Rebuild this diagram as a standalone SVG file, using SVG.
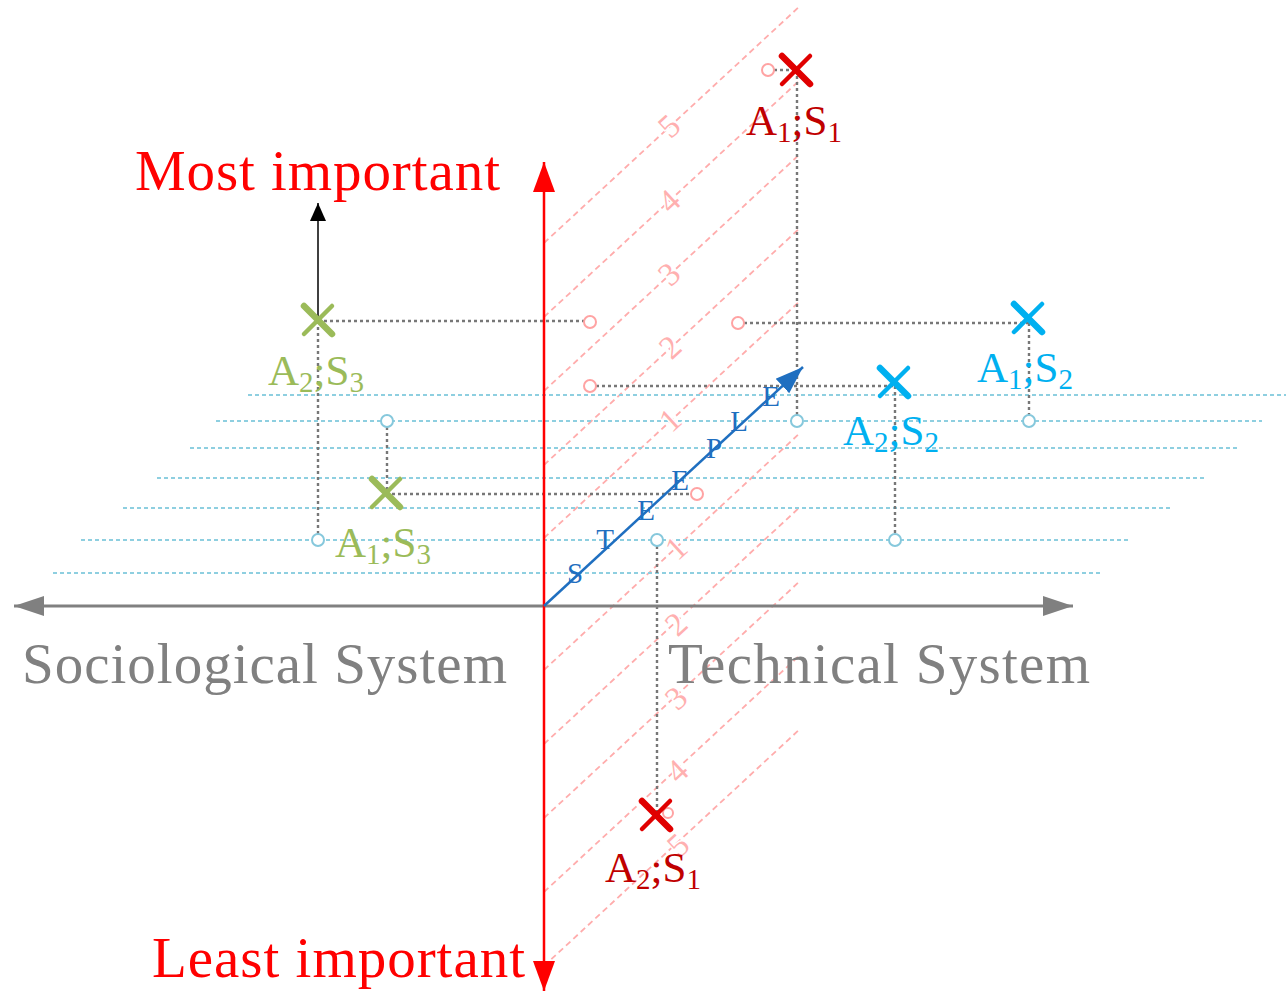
<svg xmlns="http://www.w3.org/2000/svg" width="1286" height="992" viewBox="0 0 1286 992">
  <defs>
    <style>
      .serif { font-family: "Liberation Serif", "Times New Roman", serif; }
      .pink { stroke: #ffacac; stroke-width: 1.8; stroke-dasharray: 6 4; fill: none; }
      .blue { stroke: #8ecfe0; stroke-width: 2.2; stroke-dasharray: 4 3; fill: none; }
      .gray { stroke: #777777; stroke-width: 2.4; stroke-dasharray: 3 3; fill: none; }
      .pc { stroke: #ffa3a3; stroke-width: 2; fill: #fff; }
      .bc { stroke: #86c8dc; stroke-width: 2; fill: #fff; }
      .num { font-family: "Liberation Serif", "Times New Roman", serif; font-size: 33px; fill: #ffb0b0; text-anchor: middle; stroke: #fff; stroke-width: 3; paint-order: stroke; }
      .big { font-family: "Liberation Serif", "Times New Roman", serif; font-size: 57px; }
      .lbl { font-family: "Liberation Serif", "Times New Roman", serif; font-size: 43px; }
      .st { font-family: "Liberation Serif", "Times New Roman", serif; font-size: 29px; fill: #1f6fc0; text-anchor: middle; }
      .xr { stroke: #e00000; }
      .xg { stroke: #9bbb59; }
      .xb { stroke: #00b0f0; }
    </style>
    <g id="xm">
      <path d="M-14,-14 L14,14" stroke-width="6.5" stroke-linecap="round"/>
      <path d="M14,-14 L-14,14" stroke-width="4.5" stroke-linecap="round"/>
    </g>
    <marker id="ahRed" markerUnits="userSpaceOnUse" markerWidth="32" markerHeight="22" refX="30" refY="11" orient="auto" viewBox="0 0 32 22">
      <path d="M0,0 L30,11 L0,22 Z" fill="#ff0000"/>
    </marker>
    <marker id="ahGray" markerUnits="userSpaceOnUse" markerWidth="32" markerHeight="22" refX="30" refY="10" orient="auto" viewBox="0 0 32 20">
      <path d="M0,0 L30,10 L0,20 Z" fill="#808080"/>
    </marker>
    <marker id="ahBlue" markerUnits="userSpaceOnUse" markerWidth="30" markerHeight="22" refX="28" refY="10" orient="auto" viewBox="0 0 30 20">
      <path d="M0,0 L28,10 L0,20 Z" fill="#1f6fc0"/>
    </marker>
    <marker id="ahBlack" markerUnits="userSpaceOnUse" markerWidth="20" markerHeight="18" refX="18" refY="8" orient="auto" viewBox="0 0 20 16">
      <path d="M0,0 L18,8 L0,16 Z" fill="#000"/>
    </marker>
  </defs>

  <rect width="1286" height="992" fill="#fff"/>

  <!-- pink importance planes -->
  <g id="importance-lines">
    <line class="pink" x1="544" y1="243" x2="800" y2="6"/>
    <line class="pink" x1="544" y1="317" x2="800" y2="80"/>
    <line class="pink" x1="544" y1="391" x2="800" y2="154"/>
    <line class="pink" x1="544" y1="465" x2="800" y2="228"/>
    <line class="pink" x1="544" y1="538" x2="800" y2="301"/>
    <line class="pink" x1="544" y1="670" x2="800" y2="433"/>
    <line class="pink" x1="544" y1="744" x2="800" y2="507"/>
    <line class="pink" x1="544" y1="818" x2="800" y2="581"/>
    <line class="pink" x1="544" y1="892" x2="800" y2="655"/>
    <line class="pink" x1="544" y1="966" x2="800" y2="729"/>
  </g>

  <!-- blue dotted planes -->
  <g id="system-lines">
    <line class="blue" x1="248" y1="395" x2="1286" y2="395"/>
    <line class="blue" x1="216" y1="421" x2="1262" y2="421"/>
    <line class="blue" x1="190" y1="448" x2="1240" y2="448"/>
    <line class="blue" x1="157" y1="478" x2="1205" y2="478"/>
    <line class="blue" x1="123" y1="508" x2="1170" y2="508"/>
    <line class="blue" x1="81" y1="540" x2="1130" y2="540"/>
    <line class="blue" x1="53" y1="573" x2="1100" y2="573"/>
  </g>

  <!-- pink numbers -->
  <g id="importance-numbers">
    <text class="num" transform="translate(669,126) rotate(-42.7)" y="11">5</text>
    <text class="num" transform="translate(669,201) rotate(-42.7)" y="11">4</text>
    <text class="num" transform="translate(669,274) rotate(-42.7)" y="11">3</text>
    <text class="num" transform="translate(670,347) rotate(-42.7)" y="11">2</text>
    <text class="num" transform="translate(670,420) rotate(-42.7)" y="11">1</text>
    <text class="num" transform="translate(676,548) rotate(-42.7)" y="11">1</text>
    <text class="num" transform="translate(676,624) rotate(-42.7)" y="11">2</text>
    <text class="num" transform="translate(676,698) rotate(-42.7)" y="11">3</text>
    <text class="num" transform="translate(677,771) rotate(-42.7)" y="11">4</text>
    <text class="num" transform="translate(678,845) rotate(-42.7)" y="11">5</text>
  </g>

  <!-- connectors -->
  <g id="connectors">
    <line class="gray" x1="774" y1="70" x2="796" y2="70"/>
    <line class="gray" x1="797" y1="70" x2="797" y2="415"/>
    <line class="gray" x1="318" y1="321" x2="584" y2="321"/>
    <line class="gray" x1="318" y1="321" x2="318" y2="534"/>
    <line class="gray" x1="386" y1="494" x2="691" y2="494"/>
    <line class="gray" x1="387" y1="427" x2="387" y2="494"/>
    <line class="gray" x1="744" y1="323" x2="1029" y2="323"/>
    <line class="gray" x1="1029" y1="323" x2="1029" y2="415"/>
    <line class="gray" x1="596" y1="386" x2="895" y2="386"/>
    <line class="gray" x1="895" y1="386" x2="895" y2="534"/>
    <line class="gray" x1="657" y1="546" x2="657" y2="814"/>
    <line class="gray" x1="657" y1="814" x2="663" y2="814"/>
    <line x1="318" y1="320" x2="318" y2="203" stroke="#000" stroke-width="1.5" marker-end="url(#ahBlack)"/>
    <circle class="pc" cx="768" cy="70" r="6"/>
    <circle class="pc" cx="590" cy="322" r="6"/>
    <circle class="pc" cx="738" cy="323" r="6"/>
    <circle class="pc" cx="590" cy="386" r="6"/>
    <circle class="pc" cx="697" cy="494" r="6"/>
    <circle class="pc" cx="668" cy="813" r="5" fill="none"/>
    <circle class="bc" cx="797" cy="421" r="6"/>
    <circle class="bc" cx="387" cy="421" r="6"/>
    <circle class="bc" cx="1029" cy="421" r="6"/>
    <circle class="bc" cx="318" cy="540" r="6"/>
    <circle class="bc" cx="895" cy="540" r="6"/>
    <circle class="bc" cx="657" cy="540" r="6"/>
  </g>

  <!-- axes -->
  <g id="axes">
    <line x1="544" y1="606" x2="14" y2="606" stroke="#808080" stroke-width="3" marker-end="url(#ahGray)"/>
    <line x1="544" y1="606" x2="1073" y2="606" stroke="#808080" stroke-width="3" marker-end="url(#ahGray)"/>
    <line x1="544" y1="606" x2="544" y2="162" stroke="#ff0000" stroke-width="2.5" marker-end="url(#ahRed)"/>
    <line x1="544" y1="606" x2="544" y2="991" stroke="#ff0000" stroke-width="2.5" marker-end="url(#ahRed)"/>
    <line x1="544" y1="606" x2="803" y2="367" stroke="#1f6fc0" stroke-width="2.5" marker-end="url(#ahBlue)"/>
  </g>

  <g id="steeple-letters">
    <text class="st" x="575" y="583">S</text>
    <text class="st" x="605" y="549">T</text>
    <text class="st" x="646" y="520">E</text>
    <text class="st" x="680" y="490">E</text>
    <text class="st" x="714" y="458">P</text>
    <text class="st" x="739" y="431">L</text>
    <text class="st" x="771" y="406">E</text>
  </g>

  <g id="axis-labels">
    <text class="big" x="135" y="190" fill="#ff0000" textLength="365">Most important</text>
    <text class="big" x="152" y="977" fill="#ff0000" textLength="373">Least important</text>
    <text class="big" x="22" y="683" fill="#808080" textLength="485">Sociological System</text>
    <text class="big" x="668" y="683" fill="#808080" textLength="422">Technical System</text>
  </g>

  <!-- nodes -->
  <g id="node-A1S1">
    <use href="#xm" x="796" y="70" class="xr"/>
    <text class="lbl" x="746" y="135" fill="#c00000">A<tspan font-size="29" dy="7">1</tspan><tspan dy="-7">;S</tspan><tspan font-size="29" dy="7">1</tspan></text>
  </g>
  <g id="node-A2S1">
    <use href="#xm" x="656" y="815" class="xr"/>
    <text class="lbl" x="605" y="882" fill="#c00000">A<tspan font-size="29" dy="7">2</tspan><tspan dy="-7">;S</tspan><tspan font-size="29" dy="7">1</tspan></text>
  </g>
  <g id="node-A2S3">
    <use href="#xm" x="318" y="320" class="xg"/>
    <text class="lbl" x="268" y="385" fill="#9bbb59">A<tspan font-size="29" dy="7">2</tspan><tspan dy="-7">;S</tspan><tspan font-size="29" dy="7">3</tspan></text>
  </g>
  <g id="node-A1S3">
    <use href="#xm" x="386" y="493" class="xg"/>
    <text class="lbl" x="335" y="557" fill="#9bbb59">A<tspan font-size="29" dy="7">1</tspan><tspan dy="-7">;S</tspan><tspan font-size="29" dy="7">3</tspan></text>
  </g>
  <g id="node-A1S2">
    <use href="#xm" x="1028" y="318" class="xb"/>
    <text class="lbl" x="977" y="382" fill="#00b0f0">A<tspan font-size="29" dy="7">1</tspan><tspan dy="-7">;S</tspan><tspan font-size="29" dy="7">2</tspan></text>
  </g>
  <g id="node-A2S2">
    <use href="#xm" x="894" y="382" class="xb"/>
    <text class="lbl" x="843" y="445" fill="#00b0f0">A<tspan font-size="29" dy="7">2</tspan><tspan dy="-7">;S</tspan><tspan font-size="29" dy="7">2</tspan></text>
  </g>
</svg>
